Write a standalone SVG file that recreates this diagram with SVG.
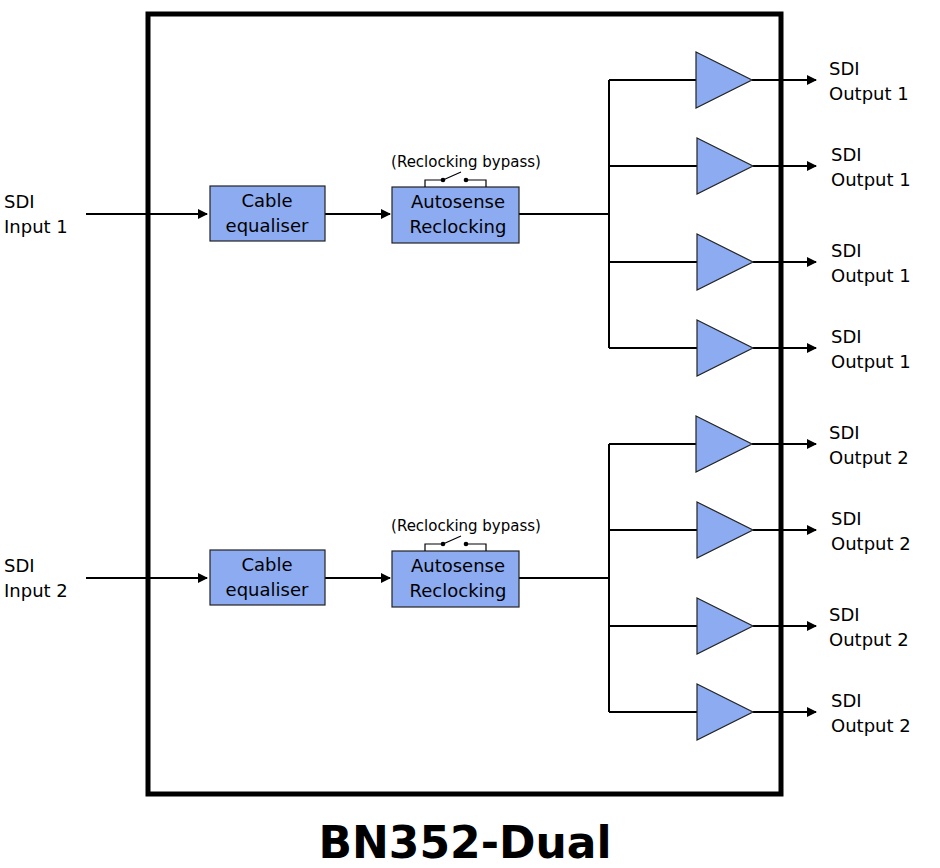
<svg xmlns="http://www.w3.org/2000/svg" width="940" height="868" viewBox="0 0 940 868">
<defs>
<marker id="ar" markerWidth="10" markerHeight="10" refX="9" refY="5" orient="auto" markerUnits="userSpaceOnUse"><path d="M0,0 L10,5 L0,10 z" fill="#000"/></marker>
<g id="amp"><path d="M0,-28 L56,0 L0,28 z" fill="#8cabf0" stroke="#222" stroke-width="1.2"/></g>
</defs>
<style>
text{font-family:"DejaVu Sans",Verdana,sans-serif;font-size:18px;fill:#000}
.s{font-size:15px}
.box{fill:#8cabf0;stroke:#222;stroke-width:1.2}
.ln{stroke:#000;stroke-width:2;fill:none}
.th{stroke:#000;stroke-width:1.2;fill:none}
</style>
<rect x="148" y="14" width="633" height="780" fill="#fff" stroke="#000" stroke-width="5"/>
<g id="connectors">
<path class="ln" d="M86,214 H207" marker-end="url(#ar)"/>
<path class="ln" d="M325,214 H390" marker-end="url(#ar)"/>
<path class="ln" d="M519,214 H609 M609,80 V348 M609,80 H696 M609,166 H697 M609,262 H697 M609,348 H697"/>
<path class="ln" d="M752,80 H816" marker-end="url(#ar)"/>
<path class="ln" d="M753,166 H816" marker-end="url(#ar)"/>
<path class="ln" d="M753,262 H816" marker-end="url(#ar)"/>
<path class="ln" d="M753,348 H816" marker-end="url(#ar)"/>
<path class="ln" d="M86,578 H207" marker-end="url(#ar)"/>
<path class="ln" d="M325,578 H390" marker-end="url(#ar)"/>
<path class="ln" d="M519,578 H609 M609,444 V712 M609,444 H696 M609,530 H697 M609,626 H697 M609,712 H697"/>
<path class="ln" d="M752,444 H816" marker-end="url(#ar)"/>
<path class="ln" d="M753,530 H816" marker-end="url(#ar)"/>
<path class="ln" d="M753,626 H816" marker-end="url(#ar)"/>
<path class="ln" d="M753,712 H816" marker-end="url(#ar)"/>
</g>
<g id="ch1">
<text x="4" y="208">SDI</text><text x="4" y="233">Input 1</text>
<g id="eq1"><rect class="box" x="210" y="186" width="115" height="55"/><text x="267" y="207" text-anchor="middle">Cable</text><text x="267" y="232" text-anchor="middle">equaliser</text></g>
<g id="rc1"><rect class="box" x="392" y="187" width="127" height="56"/><text x="458" y="208" text-anchor="middle">Autosense</text><text x="458" y="233" text-anchor="middle">Reclocking</text>
<path class="th" d="M425,187 V180 H443 M466,180 H486 V187 M443,180 L461,172"/><circle cx="443" cy="180" r="2.3"/><circle cx="466" cy="180" r="2.3"/>
<text class="s" x="466" y="167" text-anchor="middle">(Reclocking bypass)</text></g>
<use href="#amp" x="696" y="80"/><use href="#amp" x="697" y="166"/><use href="#amp" x="697" y="262"/><use href="#amp" x="697" y="348"/>
<text x="829" y="75">SDI</text><text x="829" y="100">Output 1</text>
<text x="831" y="161">SDI</text><text x="831" y="186">Output 1</text>
<text x="831" y="257">SDI</text><text x="831" y="282">Output 1</text>
<text x="831" y="343">SDI</text><text x="831" y="368">Output 1</text>
</g>
<g id="ch2">
<text x="4" y="572">SDI</text><text x="4" y="597">Input 2</text>
<g id="eq2"><rect class="box" x="210" y="550" width="115" height="55"/><text x="267" y="571" text-anchor="middle">Cable</text><text x="267" y="596" text-anchor="middle">equaliser</text></g>
<g id="rc2"><rect class="box" x="392" y="551" width="127" height="56"/><text x="458" y="572" text-anchor="middle">Autosense</text><text x="458" y="597" text-anchor="middle">Reclocking</text>
<path class="th" d="M425,551 V544 H443 M466,544 H486 V551 M443,544 L461,536"/><circle cx="443" cy="544" r="2.3"/><circle cx="466" cy="544" r="2.3"/>
<text class="s" x="466" y="531" text-anchor="middle">(Reclocking bypass)</text></g>
<use href="#amp" x="696" y="444"/><use href="#amp" x="697" y="530"/><use href="#amp" x="697" y="626"/><use href="#amp" x="697" y="712"/>
<text x="829" y="439">SDI</text><text x="829" y="464">Output 2</text>
<text x="831" y="525">SDI</text><text x="831" y="550">Output 2</text>
<text x="829" y="621">SDI</text><text x="829" y="646">Output 2</text>
<text x="831" y="707">SDI</text><text x="831" y="732">Output 2</text>
</g>
<text x="465" y="858" text-anchor="middle" style="font-size:44px;font-weight:bold">BN352-Dual</text>
</svg>
